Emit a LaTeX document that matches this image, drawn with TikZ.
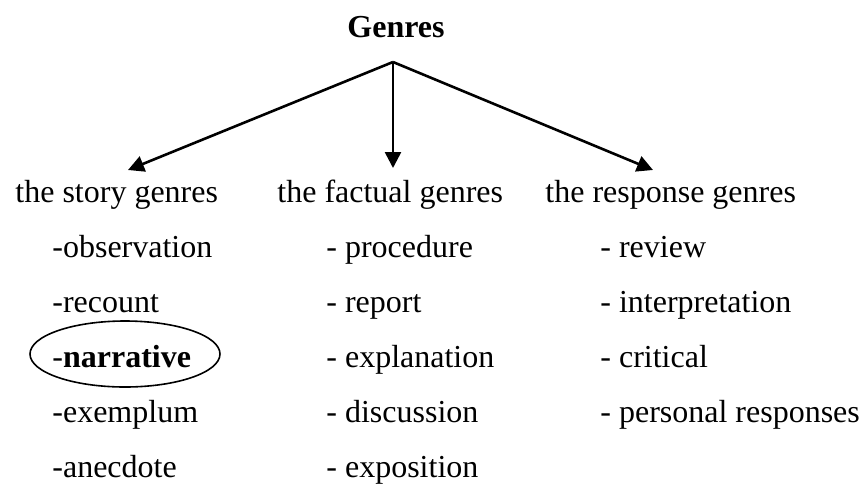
\documentclass[tikz,border=0pt]{standalone}
\usepackage{fontspec}
\setmainfont{Liberation Serif}
\usetikzlibrary{arrows.meta,shapes.geometric}

\tikzset{
  txt/.style={anchor=base west, inner sep=0pt, font=\fontsize{16pt}{19pt}\selectfont},
  head/.style={anchor=base, inner sep=0pt, font=\fontsize{16pt}{19pt}\selectfont\bfseries},
  branch/.style={line width=1.3pt, -{Triangle[length=8pt,width=8pt]}},
  ring/.style={draw, ellipse, line width=0.8pt, inner sep=0pt}
}

\begin{document}
\begin{tikzpicture}[x=0.5pt, y=-0.5pt]
  \useasboundingbox (0,0) rectangle (867,483);

  % title and the point the three branches leave from
  \node[head] (genres) at (396,37) {Genres};
  \coordinate (apex) at (393,62);

  % column headings
  \node[txt] (story)    at (15,202)  {the story genres};
  \node[txt] (factual)  at (277,202) {the factual genres};
  \node[txt] (response) at (545,202) {the response genres};

  % arrow tips above the headings
  \coordinate (tipS) at (128,170);
  \coordinate (tipF) at (393,168);
  \coordinate (tipR) at (653,170);

  \draw[branch] (apex) -- (tipS);
  \draw[branch] (apex) -- (tipF);
  \draw[branch] (apex) -- (tipR);

  % story genres
  \node[txt] (s1) at (52,257) {-observation};
  \node[txt] (s2) at (52,312) {-recount};
  \node[txt] (s3) at (52,367) {-\textbf{narrative}};
  \node[txt] (s4) at (52,422) {-exemplum};
  \node[txt] (s5) at (52,477) {-anecdote};

  % factual genres
  \node[txt] (f1) at (326,257) {- procedure};
  \node[txt] (f2) at (326,312) {- report};
  \node[txt] (f3) at (326,367) {- explanation};
  \node[txt] (f4) at (326,422) {- discussion};
  \node[txt] (f5) at (326,477) {- exposition};

  % response genres
  \node[txt] (r1) at (600,257) {- review};
  \node[txt] (r2) at (600,312) {- interpretation};
  \node[txt] (r3) at (600,367) {- critical};
  \node[txt] (r4) at (600,422) {- personal responses};

  % highlight round the narrative genre
  \node[ring, minimum width=95pt, minimum height=33pt] (mark) at (125,354) {};
\end{tikzpicture}
\end{document}
